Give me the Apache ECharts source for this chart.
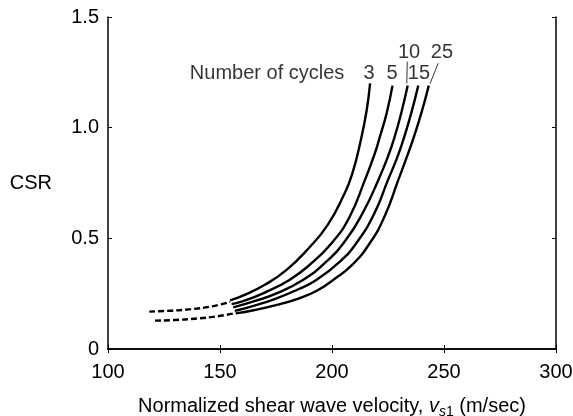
<!DOCTYPE html>
<html>
<head>
<meta charset="utf-8">
<script src="https://cdn.jsdelivr.net/npm/echarts@6/dist/echarts.min.js"></script>
<style>
html,body{margin:0;padding:0;background:#fff;}
#chart{width:573px;height:416px;}
</style>
</head>
<body>
<div id="chart"></div>
<script>
// ---- data (vs1 in m/s, CSR) ----
var cycles3  = [[154.5,0.22],[160,0.24],[170,0.29],[180,0.36],[190,0.46],[198,0.56],[205,0.69],[209,0.79],[213,0.95],[215.5,1.08],[217,1.2]];
var cycles5  = [[155.2,0.203],[160,0.215],[170,0.255],[181,0.312],[190,0.38],[200,0.48],[208,0.6],[214.7,0.764],[219,0.88],[221.4,0.96],[224.5,1.07],[227,1.19]];
var cycles10 = [[155.9,0.188],[165,0.215],[175,0.25],[187,0.312],[197,0.39],[206,0.49],[214,0.62],[220.7,0.764],[225,0.87],[228,0.96],[231,1.07],[233.8,1.19]];
var cycles15 = [[156.6,0.172],[165,0.195],[175,0.228],[185,0.27],[193,0.312],[203,0.39],[211,0.48],[219,0.615],[225,0.764],[229.3,0.87],[232.3,0.96],[235.5,1.07],[238.5,1.19]];
var cycles25 = [[157,0.161],[165,0.175],[175,0.198],[185,0.228],[193,0.262],[200.5,0.312],[209,0.38],[217,0.48],[223.5,0.6],[229.6,0.764],[233.5,0.87],[236.6,0.96],[240,1.07],[243.2,1.19]];
var dashedUpper = [[118.4,0.169],[128,0.173],[137,0.18],[146,0.192],[154.5,0.213]];
var dashedLower = [[121,0.128],[130,0.131],[140,0.138],[149,0.148],[156.7,0.162]];
var leader10 = [[233.6,1.298],[233.4,1.2]];
var leader25 = [[247.4,1.291],[243.8,1.2]];
var cycleLabels = [
  {text:'Number of cycles', pos:[205.5,1.247], align:'right'},
  {text:'3',  pos:[216.5,1.247], align:'center'},
  {text:'5',  pos:[226.8,1.247], align:'center'},
  {text:'15', pos:[238.8,1.247], align:'center'},
  {text:'10', pos:[234.4,1.338], align:'center'},
  {text:'25', pos:[249.1,1.338], align:'center'}
];
var xTicks = [100,150,200,250,300];
var yTicks = [0,0.5,1.0,1.5];

var FONT = '"Liberation Sans", Arial, Helvetica, sans-serif';
var FS = 20;
var chart = echarts.init(document.getElementById('chart'));

function solid(d){
  return {type:'line', data:d, smooth:0.5, showSymbol:false, symbol:'none',
    lineStyle:{color:'#000', width:2.4}, silent:true, z:3};
}
function dashed(d){
  return {type:'line', data:d, smooth:0.5, showSymbol:false, symbol:'none',
    lineStyle:{color:'#000', width:2.4, type:[6,3]}, silent:true, z:3};
}
function leader(d){
  return {type:'line', data:d, showSymbol:false, symbol:'none',
    lineStyle:{color:'#000', width:0.8}, silent:true, z:3};
}

var labelSeries = {
  type:'scatter', symbolSize:0, silent:true, z:4,
  data: cycleLabels.map(function(l){
    return {value:l.pos, label:{show:true, position:'inside', formatter:l.text, align:l.align,
      color:'#000', fontSize:FS, fontFamily:FONT}};
  })
};

var axisCommon = {
  axisLine:{show:true, lineStyle:{color:'#000', width:1.5}},
  axisTick:{show:true, inside:true, length:4, lineStyle:{color:'#000', width:1}},
  splitLine:{show:false}
};

var option = {
  animation:false,
  backgroundColor:'#fff',
  grid:{left:108, right:17, top:17, bottom:67, containLabel:false, outerBoundsMode:'none'},
  xAxis:[
    Object.assign({type:'value', min:xTicks[0], max:xTicks[xTicks.length-1], interval:50, position:'bottom',
      axisLabel:{color:'#000', fontSize:FS, fontFamily:FONT, margin:13},
      name:'{t|Normalized shear wave velocity, }{i|v}{s|s}{n|1}{t| (m/sec)}',
      nameLocation:'middle', nameGap:44,
      nameTextStyle:{color:'#000', fontSize:FS, fontFamily:FONT,
        rich:{
          t:{fontSize:FS, fontFamily:FONT, color:'#000', lineHeight:26, verticalAlign:'middle'},
          i:{fontSize:FS, fontFamily:FONT, fontStyle:'italic', color:'#000', lineHeight:26, verticalAlign:'middle'},
          s:{fontSize:14, fontFamily:FONT, fontStyle:'italic', color:'#000', lineHeight:26, verticalAlign:'bottom'},
          n:{fontSize:14, fontFamily:FONT, color:'#000', lineHeight:26, verticalAlign:'bottom'}
        }}
    }, axisCommon),
    Object.assign({type:'value', min:xTicks[0], max:xTicks[xTicks.length-1], interval:50, position:'top',
      axisLabel:{show:false}}, axisCommon)
  ],
  yAxis:[
    Object.assign({type:'value', min:yTicks[0], max:yTicks[yTicks.length-1], interval:0.5, position:'left',
      axisLabel:{color:'#000', fontSize:FS, fontFamily:FONT, margin:9,
        formatter:function(v){return v===0?'0':v.toFixed(1);}},
      name:'CSR', nameLocation:'middle', nameGap:56, nameRotate:0,
      nameTextStyle:{color:'#000', fontSize:FS, fontFamily:FONT, padding:[0,0,0,0]}
    }, axisCommon),
    Object.assign({type:'value', min:yTicks[0], max:yTicks[yTicks.length-1], interval:0.5, position:'right',
      axisLabel:{show:false}}, axisCommon)
  ],
  series:[
    solid(cycles3), solid(cycles5), solid(cycles10), solid(cycles15), solid(cycles25),
    dashed(dashedUpper), dashed(dashedLower),
    leader(leader10), leader(leader25),
    labelSeries
  ]
};
chart.setOption(option);
</script>
</body>
</html>
